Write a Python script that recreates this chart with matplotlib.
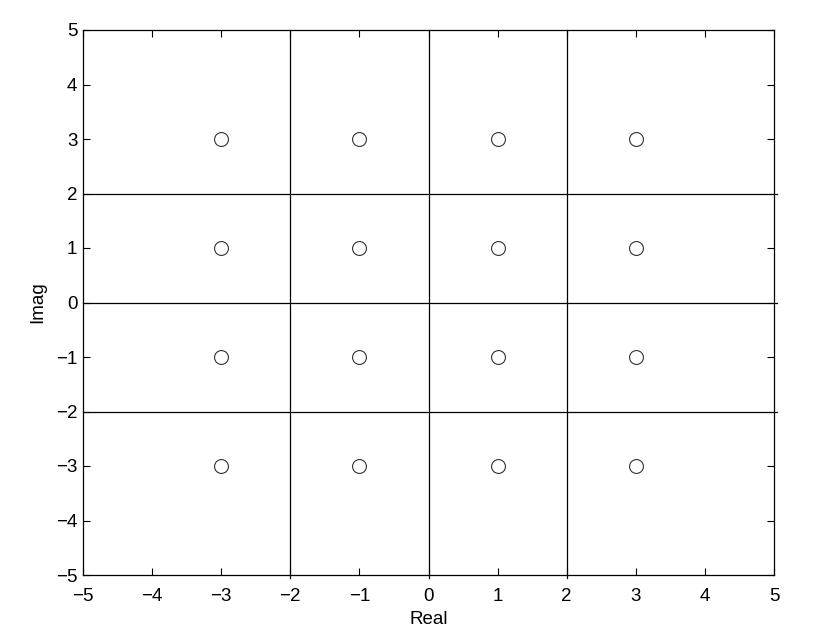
import matplotlib
matplotlib.use("Agg")
import matplotlib.pyplot as plt
import numpy as np

plt.rcParams['font.family'] = ['Liberation Sans', 'DejaVu Sans']

# 16-QAM constellation points
real_vals = [-3, -1, 1, 3]
imag_vals = [3, 1, -1, -3]
# decision boundaries
boundaries = [-2, 0, 2]
ticks = [-5, -4, -3, -2, -1, 0, 1, 2, 3, 4, 5]

fig = plt.figure(figsize=(8.14, 6.44), dpi=100)
ax = fig.add_axes([83/814, 1 - 575/644, (774 - 83)/814, (575 - 30)/644])

pts_r = [r for i in imag_vals for r in real_vals]
pts_i = [i for i in imag_vals for r in real_vals]
ax.plot(pts_r, pts_i, linestyle='none', marker='o', markersize=10,
        markerfacecolor='none', markeredgecolor='#333333', markeredgewidth=0.8)

for b in boundaries:
    ax.plot([-5, 5.05], [b, b], color='black', linewidth=0.9, clip_on=False)
    ax.plot([b, b], [-5.05, 5], color='black', linewidth=0.9, clip_on=False)

ax.set_xlim(-5, 5)
ax.set_ylim(-5, 5)
ax.set_xticks(ticks)
ax.set_yticks(ticks)
ax.tick_params(direction='in', length=5, width=0.8, top=True, right=True,
               labelsize=13.5, colors='black')
ax.tick_params(axis='x', pad=9.5)
ax.tick_params(axis='y', pad=4)
for s in ax.spines.values():
    s.set_linewidth(0.9)
ax.set_xlabel('Real', fontsize=13.5, labelpad=4.5)
ax.set_ylabel('Imag', fontsize=13.5, labelpad=7)

fig.savefig('out.png', dpi=100, facecolor='white')
